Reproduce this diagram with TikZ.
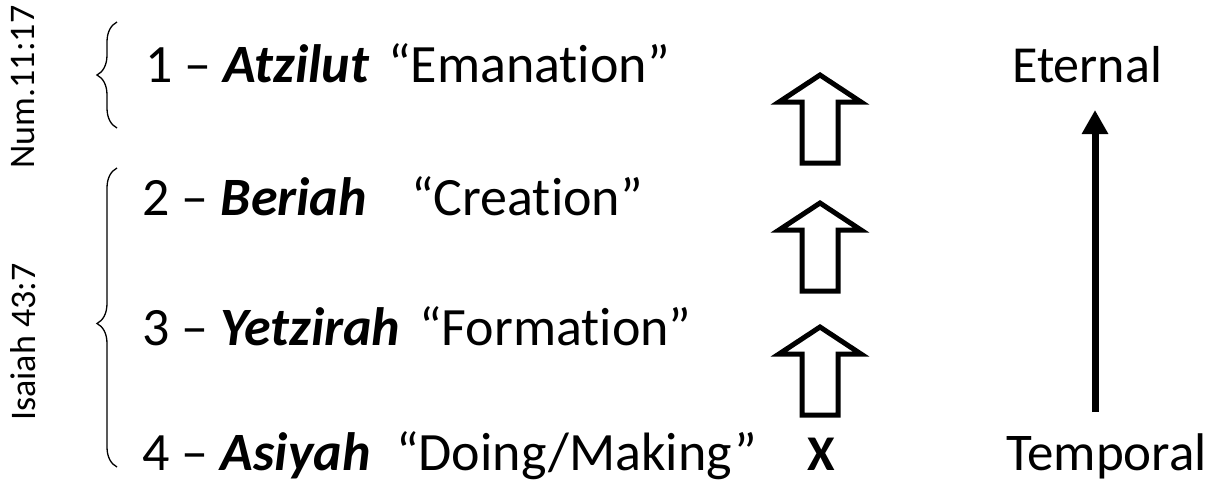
\documentclass[tikz,border=0pt]{standalone}
\usepackage{fontspec}
\setmainfont{Carlito}[Ligatures=NoCommon]
\usetikzlibrary{decorations.pathreplacing,arrows.meta}
\begin{document}
\begin{tikzpicture}[x=1pt,y=-1pt,
  lbl/.style={inner sep=0pt, anchor=base west, font=\fontsize{54}{60}\selectfont},
  side/.style={inner sep=0pt, rotate=90, font=\fontsize{36}{40}\selectfont},
  bracegrp/.style={decorate, decoration={brace, amplitude=20pt}, line width=1.3pt},
  hollow/.style={draw=black, fill=white, line width=5pt, miter limit=10},
  bigarrow/.style={line width=7pt, -{Triangle[length=24pt,width=25pt]}}]
\useasboundingbox (0,0) rectangle (1218,483);
% rotated source labels
\node[side] (num) at (23,87) {Num.11:17};
\node[side] (isa) at (23,342) {Isaiah 43:7};
% braces
\coordinate (b1b) at (117,128);
\coordinate (b1t) at (117,22);
\coordinate (b2b) at (117,467);
\coordinate (b2t) at (117,168);
\draw[bracegrp] (b1b) -- (b1t);
\draw[bracegrp, decoration={aspect=0.48}] (b2b) -- (b2t);
% world names
\node[lbl] (w1) at (145,82) {1 -- \textbf{\textit{Atzilut}}};
\node[lbl] (t1) at (388,82) {“Emanation”};
\node[lbl] (w2) at (142,215) {2 -- \textbf{\textit{Beriah}}};
\node[lbl] (t2) at (411,215) {“Creation”};
\node[lbl] (w3) at (142,345) {3 -- \textbf{\textit{Yetzirah}}};
\node[lbl] (t3) at (419,345) {“Formation”};
\node[lbl] (w4) at (142,470) {4 -- \textbf{\textit{Asiyah}}};
\node[lbl] (t4) at (396,470) {“Doing/Making”};
% hollow arrows
\foreach \t/\n in {75/a1,203/a2,327/a3}{
  \draw[hollow] (820,\t) coordinate (\n) -- ++(41,27) -- ++(-23,0) -- ++(0,61)
     -- ++(-36,0) -- ++(0,-61) -- ++(-23,0) -- cycle;
}
\node[inner sep=0pt, anchor=base, font=\fontsize{50}{56}\selectfont\bfseries] (x) at (821,470) {X};
% eternal / temporal
\node[lbl, font=\fontsize{52}{58}\selectfont] (et) at (1012,82) {Eternal};
\node[lbl, font=\fontsize{53}{58}\selectfont] (tp) at (1006,470) {Temporal};
\coordinate (ab) at (1095,412);
\coordinate (at) at (1095,110);
\draw[bigarrow] (ab) -- (at);
\end{tikzpicture}
\end{document}
